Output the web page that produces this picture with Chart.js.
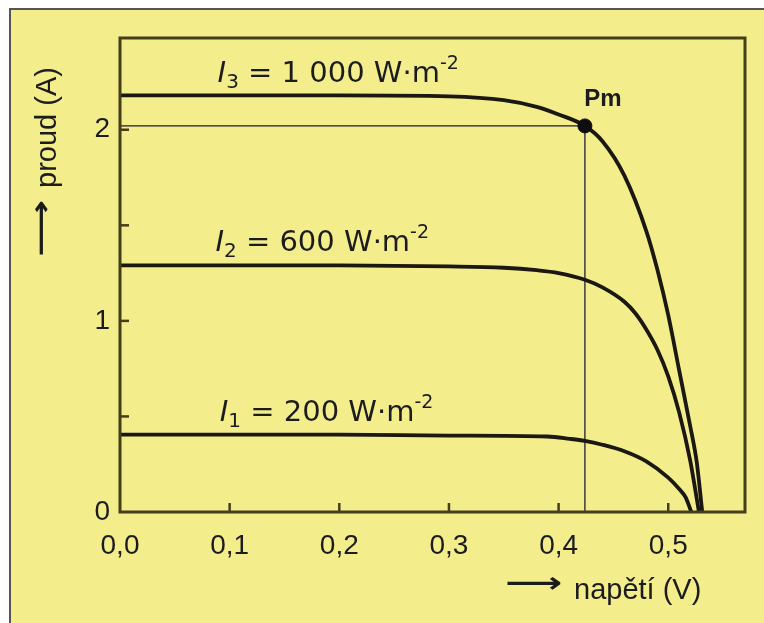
<!DOCTYPE html>
<html>
<head>
<meta charset="utf-8">
<script src="https://cdn.jsdelivr.net/npm/chart.js@4.4.1/dist/chart.umd.min.js"></script>
<style>
  html, body { margin: 0; padding: 0; background: #fff; }
  #frame { position: absolute; left: 9px; top: 8px; width: 760px; height: 620px;
           background: #f3ed8c; border-left: 2px solid #555; border-top: 2px solid #555; }
  #wrap { position: absolute; left: 0; top: 0; width: 764px; height: 623px; }
</style>
</head>
<body>
<div id="frame"></div>
<div id="wrap"><canvas id="ivChart" width="764" height="623"></canvas></div>
<script>
// I-V curves of a solar cell
var voltageI3 = [0, 0.1, 0.2, 0.3, 0.35, 0.38, 0.40, 0.424, 0.44, 0.46, 0.48, 0.49, 0.50, 0.51, 0.52, 0.526, 0.531];
var currentI3 = [2.18, 2.18, 2.18, 2.175, 2.155, 2.12, 2.08, 2.02, 1.94, 1.76, 1.47, 1.27, 1.03, 0.74, 0.45, 0.26, 0];

var voltageI2 = [0, 0.1, 0.2, 0.3, 0.35, 0.38, 0.40, 0.424, 0.44, 0.46, 0.47, 0.48, 0.49, 0.50, 0.51, 0.52, 0.528];
var currentI2 = [1.29, 1.29, 1.29, 1.285, 1.278, 1.265, 1.25, 1.215, 1.175, 1.10, 1.04, 0.955, 0.85, 0.71, 0.52, 0.27, 0];

var voltageI1 = [0, 0.1, 0.2, 0.3, 0.39, 0.41, 0.424, 0.44, 0.46, 0.48, 0.50, 0.51, 0.516, 0.521];
var currentI1 = [0.405, 0.405, 0.405, 0.40, 0.395, 0.383, 0.372, 0.352, 0.318, 0.265, 0.18, 0.12, 0.075, 0];

var pmVoltage = [0.424];
var pmCurrent = [2.02];

var irradiance = ['200', '600', '1 000'];
var curveIndex = ['1', '2', '3'];

var xTickValues = [0, 0.1, 0.2, 0.3, 0.4, 0.5];
var yLabelValues = [0, 1, 2];
var yTickValues = [0.5, 1, 1.5, 2];

var lineColor = '#1a1810';
var frameColor = '#443f18';
var textColor = '#1c1c1c';

function points(xs, ys) {
    return xs.map(function(x, i) { return { x: x, y: ys[i] }; });
}

// where each curve label starts (data units, text baseline)
var labelAnchors = [
    { v: 0.091, i: 0.476 },
    { v: 0.087, i: 1.366 },
    { v: 0.089, i: 2.25 }
];

function drawRich(ctx, x, y, parts) {
    parts.forEach(function(p) {
        ctx.font = p.font;
        ctx.fillText(p.text, x, y + (p.dy || 0));
        x += ctx.measureText(p.text).width;
    });
}

function drawArrow(ctx, x, y, len) {
    ctx.save();
    ctx.font = 'bold 28px "DejaVu Sans"';
    ctx.textBaseline = 'middle';
    var w = ctx.measureText('\u27F6').width;
    ctx.translate(x, y);
    ctx.scale(len / w, 1);
    ctx.fillText('\u27F6', 0, 0);
    ctx.restore();
}

var decor = {
    id: 'decor',
    afterDraw: function(chart) {
        var ctx = chart.ctx, a = chart.chartArea;
        var xs = chart.scales.x, ys = chart.scales.y;
        ctx.save();

        // plot frame
        ctx.strokeStyle = frameColor;
        ctx.lineWidth = 3;
        ctx.strokeRect(a.left, a.top, a.right - a.left, a.bottom - a.top);

        // inward ticks
        ctx.lineWidth = 2.5;
        xTickValues.forEach(function(v) {
            if (v === 0) return;
            var px = xs.getPixelForValue(v);
            ctx.beginPath(); ctx.moveTo(px, a.bottom); ctx.lineTo(px, a.bottom - 9); ctx.stroke();
        });
        yTickValues.forEach(function(v) {
            var py = ys.getPixelForValue(v);
            ctx.beginPath(); ctx.moveTo(a.left, py); ctx.lineTo(a.left + 9, py); ctx.stroke();
        });

        // curve labels
        ctx.fillStyle = textColor;
        ctx.textBaseline = 'alphabetic';
        ctx.textAlign = 'left';
        labelAnchors.forEach(function(p, k) {
            drawRich(ctx, xs.getPixelForValue(p.v), ys.getPixelForValue(p.i), [
                { text: 'I', font: 'oblique 29px "DejaVu Sans"' },
                { text: curveIndex[k], font: '20px "DejaVu Sans"', dy: 6 },
                { text: ' = ' + irradiance[k] + ' W\u00B7m', font: '29px "DejaVu Sans"' },
                { text: '-2', font: '19px "DejaVu Sans"', dy: -13 }
            ]);
        });

        // Pm label
        ctx.font = 'bold 24px "Liberation Sans", Arial';
        ctx.textAlign = 'center';
        ctx.textBaseline = 'middle';
        ctx.fillText('Pm', xs.getPixelForValue(pmVoltage[0]) + 18, ys.getPixelForValue(pmCurrent[0]) - 27);

        // axis titles
        ctx.textAlign = 'left';
        ctx.font = '29px "Liberation Sans", Arial';
        drawArrow(ctx, 505, 585, 57);
        ctx.fillText('napětí (V)', 574, 591);

        ctx.save();
        ctx.translate(48, 257);
        ctx.rotate(-Math.PI / 2);
        drawArrow(ctx, 0, -5, 57);
        ctx.font = '29px "Liberation Sans", Arial';
        ctx.textBaseline = 'middle';
        ctx.fillText('proud (A)', 69, 0);
        ctx.restore();

        ctx.restore();
    }
};

var curveStyle = {
    borderColor: lineColor, borderWidth: 3.8, pointRadius: 0,
    cubicInterpolationMode: 'monotone', fill: false
};

new Chart(document.getElementById('ivChart'), {
    type: 'line',
    data: {
        datasets: [
            { data: points(pmVoltage, pmCurrent), showLine: false, pointRadius: 7,
              pointBackgroundColor: '#0d0d12', pointBorderColor: '#0d0d12' },
            Object.assign({ data: points(voltageI3, currentI3) }, curveStyle),
            Object.assign({ data: points(voltageI2, currentI2) }, curveStyle),
            Object.assign({ data: points(voltageI1, currentI1) }, curveStyle),
            { data: points([0, pmVoltage[0], pmVoltage[0]], [pmCurrent[0], pmCurrent[0], 0]),
              borderColor: '#1d1d3a', borderWidth: 1.3, pointRadius: 0, tension: 0 }
        ]
    },
    options: {
        responsive: false,
        animation: false,
        devicePixelRatio: 1,
        layout: { padding: { left: 0, top: 38, right: 19, bottom: 0 } },
        plugins: { legend: { display: false }, tooltip: { enabled: false } },
        scales: {
            x: {
                type: 'linear', min: 0, max: 0.57,
                grid: { display: false, drawTicks: false },
                border: { display: false },
                ticks: {
                    padding: 17, color: textColor,
                    font: { family: '"Liberation Sans", Arial', size: 28 },
                    callback: function(v) { return v.toFixed(1).replace('.', ','); }
                },
                afterBuildTicks: function(s) {
                    s.ticks = xTickValues.map(function(v) { return { value: v }; });
                },
                afterFit: function(s) { s.height = 111; }
            },
            y: {
                type: 'linear', min: 0, max: 2.48,
                grid: { display: false, drawTicks: false },
                border: { display: false },
                ticks: {
                    padding: 10, color: textColor,
                    font: { family: '"Liberation Sans", Arial', size: 28 },
                    callback: function(v) { return String(v); }
                },
                afterBuildTicks: function(s) {
                    s.ticks = yLabelValues.map(function(v) { return { value: v }; });
                },
                afterFit: function(s) { s.width = 120; }
            }
        }
    },
    plugins: [decor]
});
</script>
</body>
</html>
